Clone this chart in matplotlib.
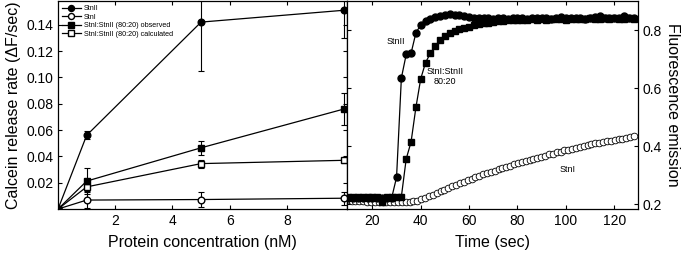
import numpy as np
import matplotlib
matplotlib.use('Agg')
import matplotlib.pyplot as plt

plt.rcParams['font.family'] = ['Liberation Sans', 'DejaVu Sans']

# left panel: release rate vs protein concentration
conc = [0, 1, 5, 10]
stnII_rate = [0, 0.056, 0.142, 0.151]
stnII_err = [0, 0.003, 0.037, 0.021]
stnI_rate = [0, 0.0068, 0.0072, 0.0082]
stnI_err = [0, 0.006, 0.0055, 0.005]
obs_rate = [0, 0.0212, 0.0465, 0.076]
obs_err = [0, 0.010, 0.0055, 0.012]
calc_rate = [0, 0.0168, 0.0345, 0.037]
calc_err = [0, 0.003, 0.003, 0.002]

# right panel: kinetics (fluorescence vs time)
t_fast = np.arange(10, 129, 2.0)   # sampling of StnII and 80:20 traces
stnII_fl = [0.222, 0.222, 0.222, 0.222, 0.222, 0.222, 0.222, 0.222, 0.222, 0.222,
            0.292, 0.635, 0.716, 0.720, 0.790, 0.818, 0.830, 0.838, 0.845, 0.849,
            0.853, 0.855, 0.853, 0.852, 0.849, 0.846, 0.843, 0.842, 0.840, 0.841,
            0.839, 0.842, 0.840, 0.838, 0.841, 0.843, 0.840, 0.839, 0.842, 0.840,
            0.843, 0.841, 0.839, 0.842, 0.844, 0.841, 0.840, 0.843, 0.841, 0.839,
            0.842, 0.846, 0.850, 0.843, 0.840, 0.842, 0.841, 0.848, 0.843, 0.841]
mix_fl = [0.226, 0.226, 0.226, 0.226, 0.226, 0.226, 0.226, 0.208, 0.226, 0.226,
          0.226, 0.226, 0.356, 0.414, 0.533, 0.632, 0.688, 0.720, 0.746, 0.764,
          0.778, 0.789, 0.797, 0.804, 0.808, 0.812, 0.817, 0.820, 0.823, 0.826,
          0.828, 0.830, 0.832, 0.833, 0.835, 0.834, 0.836, 0.835, 0.837, 0.836,
          0.838, 0.836, 0.837, 0.839, 0.838, 0.836, 0.838, 0.839, 0.837, 0.838,
          0.840, 0.838, 0.839, 0.841, 0.838, 0.840, 0.839, 0.838, 0.840, 0.839]
t_slow = np.arange(9.8, 129, 1.6)  # sampling of StnI trace
stnI_fl = [0.213, 0.212, 0.211, 0.210, 0.209, 0.208, 0.208, 0.207, 0.207, 0.207,
           0.207, 0.207, 0.207, 0.207, 0.207, 0.207, 0.208, 0.209, 0.211, 0.216,
           0.222, 0.228, 0.233, 0.239, 0.245, 0.250, 0.256, 0.261, 0.267, 0.272,
           0.277, 0.282, 0.287, 0.292, 0.297, 0.302, 0.307, 0.311, 0.315, 0.320,
           0.324, 0.328, 0.332, 0.337, 0.341, 0.345, 0.349, 0.353, 0.357, 0.360,
           0.364, 0.367, 0.371, 0.374, 0.378, 0.381, 0.385, 0.388, 0.391, 0.394,
           0.397, 0.400, 0.403, 0.406, 0.409, 0.412, 0.414, 0.416, 0.419, 0.421,
           0.423, 0.425, 0.428, 0.431, 0.434]

fig = plt.figure(figsize=(6.83, 2.59), dpi=100)
ax1 = fig.add_axes([0.085, 0.193, 0.423, 0.803])
ax2 = fig.add_axes([0.508, 0.193, 0.426, 0.803])

ekw = dict(color='black', lw=0.9, ms=4.8, capsize=2.5, elinewidth=0.8, capthick=0.8)
ax1.errorbar(conc, stnI_rate, yerr=stnI_err, marker='o', mfc='white', mec='black', label='StnI', **ekw)
ax1.errorbar(conc, calc_rate, yerr=calc_err, marker='s', mfc='white', mec='black',
             label='StnI:StnII (80:20) calculated', **ekw)
ax1.errorbar(conc, obs_rate, yerr=obs_err, marker='s', mfc='black', mec='black',
             label='StnI:StnII (80:20) observed', **ekw)
ax1.errorbar(conc, stnII_rate, yerr=stnII_err, marker='o', mfc='black', mec='black', label='StnII', **ekw)

# legend shows only line + marker, no error bar glyph
handles, labels = ax1.get_legend_handles_labels()
order = [3, 0, 2, 1]
ax1.legend([handles[i][0] for i in order], [labels[i] for i in order], loc='upper left',
           fontsize=5.2, frameon=False, handlelength=2.6, markerscale=0.9,
           borderaxespad=0.25, labelspacing=0.2, handletextpad=0.4, borderpad=0.3)

ax1.set_xlim(0, 10.1)
ax1.set_ylim(0, 0.158)
ax1.set_xticks([2, 4, 6, 8])
ax1.set_yticks([0.02, 0.04, 0.06, 0.08, 0.10, 0.12, 0.14])
ax1.set_yticklabels(['0.02', '0.04', '0.06', '0.08', '0.10', '0.12', '0.14'])
ax1.set_xlabel('Protein concentration (nM)', fontsize=11.5, labelpad=5)
ax1.set_ylabel('Calcein release rate (ΔF/sec)', fontsize=11.5, labelpad=4)
ax1.tick_params(direction='in', top=True, right=True, labelsize=10, length=3, width=0.8)

ax2.plot(t_slow, stnI_fl, color='black', lw=0.6, marker='o', ms=4.8, mfc='white', mec='black', mew=0.6)
ax2.plot(t_fast, mix_fl, color='black', lw=0.9, marker='s', ms=4.5, mfc='black', mec='black')
ax2.plot(t_fast, stnII_fl, color='black', lw=0.9, marker='o', ms=5, mfc='black', mec='black')

ax2.text(33.5, 0.76, 'StnII', fontsize=6.5, ha='right', va='center')
ax2.text(50, 0.64, 'StnI:StnII\n80:20', fontsize=6.5, ha='center', va='center', linespacing=1.2)
ax2.text(100.5, 0.318, 'StnI', fontsize=6.5, ha='center', va='center')

ax2.set_xlim(9.5, 129.8)
ax2.set_ylim(0.183, 0.9)
ax2.set_xticks([20, 40, 60, 80, 100, 120])
ax2.set_yticks([0.2, 0.4, 0.6, 0.8])
ax2.set_xlabel('Time (sec)', fontsize=11.5, labelpad=5)
ax2.yaxis.set_label_position('right')
ax2.set_ylabel('Fluorescence emission', fontsize=11.5, rotation=270, labelpad=13)
ax2.tick_params(direction='in', top=True, left=True, right=True, labelleft=False,
                labelright=True, labelsize=10, length=3, width=0.8)

for ax in (ax1, ax2):
    for s in ax.spines.values():
        s.set_linewidth(0.9)

fig.savefig('out.png', dpi=100)
